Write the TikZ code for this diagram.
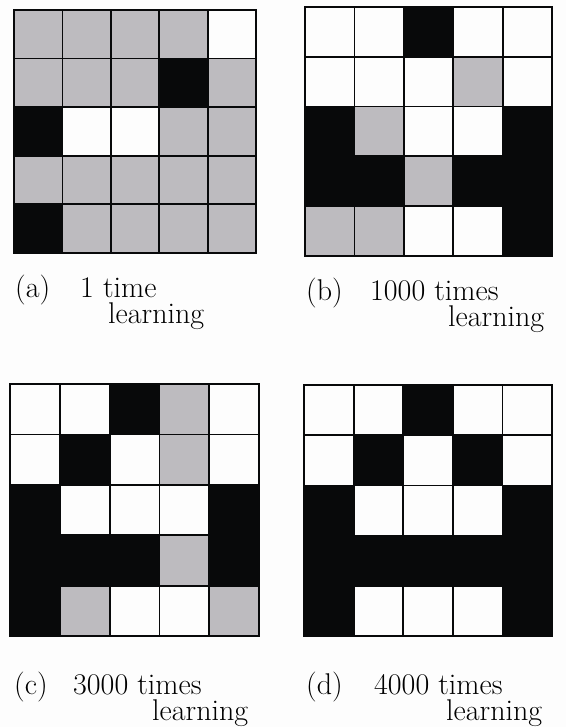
\documentclass[tikz,border=0pt]{standalone}
\usepackage{xcolor}
\usepackage{tikz}
\definecolor{cell0}{HTML}{FDFDFD}
\definecolor{cell1}{HTML}{BDBBBF}
\definecolor{cell2}{HTML}{08090A}
\definecolor{gridline}{HTML}{08090A}
\tikzset{
  cell/.style={draw=gridline,line width=1.8pt},
  tag/.style={anchor=base west,inner sep=0pt,font=\fontsize{30}{26}\selectfont},
}
% #1,#2 top left corner, #3,#4 cell size, #5 rows (0 white, 1 gray, 2 black)
\newcommand{\drawpattern}[5]{%
  \foreach \row [count=\r from 0] in {#5} {
    \foreach \v [count=\c from 0] in \row {
      \path[cell,fill=cell\v] (#1+\c*#3,#2+\r*#4) rectangle ++(#3,#4);
    }
  }
}

\begin{document}
\begin{tikzpicture}[x=1pt,y=-1pt]
  \useasboundingbox (0,0) rectangle (566,727);
  \fill[cell0] (0,0) rectangle (566,727);
  % grids
  \drawpattern{14}{10}{48.4}{48.6}{{1,1,1,1,0},{1,1,1,2,1},{2,0,0,1,1},{1,1,1,1,1},{2,1,1,1,1}}
  \drawpattern{305}{7}{49.4}{49.8}{{0,0,2,0,0},{0,0,0,1,0},{2,1,0,0,2},{2,2,1,2,2},{1,1,0,0,2}}
  \drawpattern{10}{384}{49.8}{50.4}{{0,0,2,1,0},{0,2,0,1,0},{2,0,0,0,2},{2,2,2,1,2},{2,1,0,0,1}}
  \drawpattern{304}{385}{49.6}{50.2}{{0,0,2,0,0},{0,2,0,2,0},{2,0,0,0,2},{2,2,2,2,2},{2,0,0,0,2}}
  % captions
  \foreach \t/\x/\nx/\y/\n/\lx in {a/15/80/297/1 time/108, b/306/370/300/1000 times/448, c/14/73/694/3000 times/152, d/306/374/694/4000 times/446} {
    \node[tag] (tag\t) at (\x,\y) {(\t)};
    \node[tag] (num\t) at (\nx,\y) {\n};
    \node[tag] (lrn\t) at (\lx,\y+26) {learning};
  }
\end{tikzpicture}
\end{document}
